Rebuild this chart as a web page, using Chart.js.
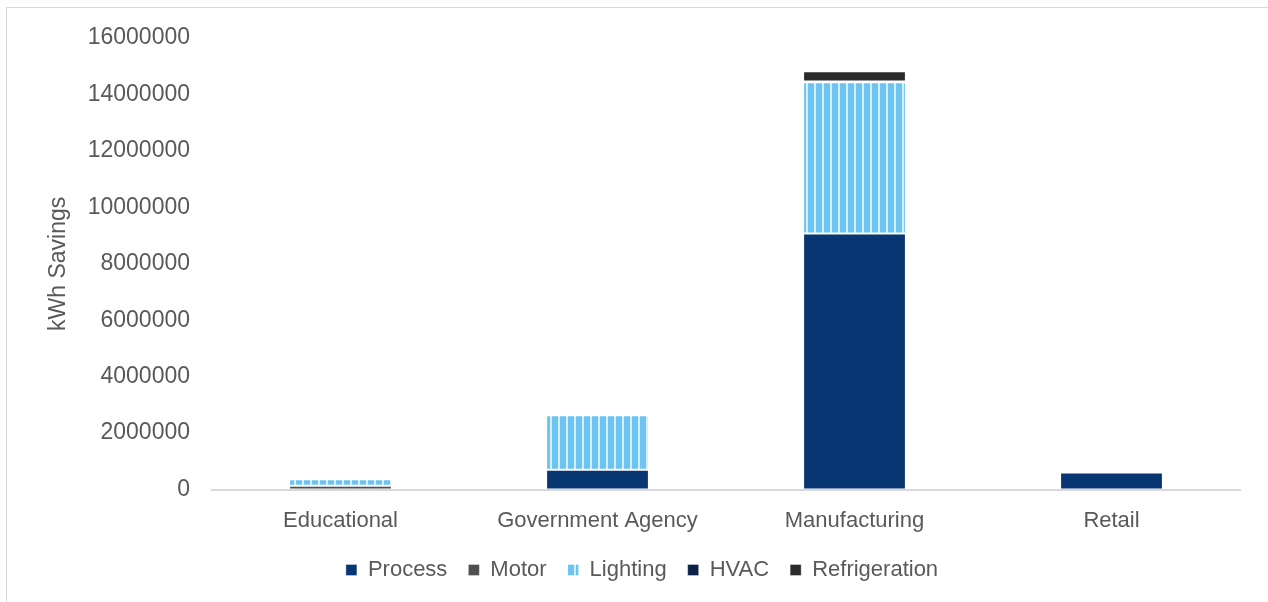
<!DOCTYPE html>
<html>
<head>
<meta charset="utf-8">
<script src="https://cdn.jsdelivr.net/npm/chart.js@4"></script>
<style>
  html, body { margin: 0; padding: 0; background: #fff; }
  #wrap { position: relative; width: 1268px; height: 602px; overflow: hidden; }
  #frame { position: absolute; left: 6px; top: 7px; width: 1300px; height: 700px; border: 1px solid #d9d9d9; box-sizing: border-box; pointer-events: none; }
  canvas { position: absolute; left: 0; top: 0; }
</style>
</head>
<body>
<div id="wrap">
  <canvas id="myChart" width="1268" height="602"></canvas>
  <div id="frame"></div>
</div>
<script>
const categories = ["Educational", "Government Agency", "Manufacturing", "Retail"];
const process = [0, 700000, 9070000, 603000];
const motor = [140000, 0, 0, 0];
const lighting = [225000, 1935000, 5360000, 0];
const hvac = [0, 0, 30000, 0];
const refrigeration = [0, 0, 360000, 0];
const yTicks = [0, 2000000, 4000000, 6000000, 8000000, 10000000, 12000000, 14000000, 16000000];

// striped fill for Lighting
const pc = document.createElement('canvas');
pc.width = 8;
pc.height = 8;
const pctx = pc.getContext('2d');
pctx.fillStyle = '#6cc4f1';
pctx.fillRect(0, 0, 8, 8);
pctx.fillStyle = '#d6eefa';
pctx.fillRect(6, 0, 2, 8);

const ctx = document.getElementById('myChart');
const stripes = ctx.getContext('2d').createPattern(pc, 'repeat');

const family = "'Liberation Sans', Arial, sans-serif";
const edge = 'rgba(255,255,255,0.35)';

// legend padding is also its horizontal spacing, so move it afterwards
const legendShift = {
    id: 'legendShift',
    afterLayout(chart) {
        const lg = chart.legend;
        lg.top -= 14;
        lg.bottom -= 14;
        lg.left += 22;
        lg.right += 22;
    }
};

new Chart(ctx, {
    type: 'bar',
    data: {
        labels: categories,
        datasets: [
            { label: 'Process', data: process, backgroundColor: '#073673' },
            { label: 'Motor', data: motor, backgroundColor: '#4f4f4f' },
            { label: 'Lighting', data: lighting, backgroundColor: stripes },
            { label: 'HVAC', data: hvac, backgroundColor: '#0c2147' },
            { label: 'Refrigeration', data: refrigeration, backgroundColor: '#2b2b2b' }
        ].map(d => Object.assign(d, { borderWidth: 1, borderColor: edge, borderSkipped: false }))
    },
    options: {
        responsive: false,
        animation: false,
        layout: { padding: { left: 0, right: 28, top: 38, bottom: -3 } },
        datasets: { bar: { barPercentage: 0.4, categoryPercentage: 1 } },
        plugins: {
            legend: {
                position: 'bottom',
                labels: {
                    color: '#595959',
                    font: { family: family, size: 22 },
                    boxWidth: 11,
                    boxHeight: 11,
                    padding: 21
                }
            },
            tooltip: { enabled: false }
        },
        scales: {
            x: {
                stacked: true,
                grid: { display: false, drawTicks: false },
                border: { display: true, color: '#d9d9d9', width: 2 },
                ticks: { color: '#595959', font: { family: family, size: 22 }, padding: 18 }
            },
            y: {
                stacked: true,
                min: 0,
                max: 16000000,
                afterFit: s => { s.width = 212; },
                afterBuildTicks: s => { s.ticks = yTicks.map(v => ({ value: v })); },
                grid: { display: false, drawTicks: false },
                border: { display: false },
                ticks: {
                    color: '#595959',
                    font: { family: family, size: 23 },
                    padding: 22,
                    callback: v => String(v)
                },
                title: {
                    display: true,
                    text: 'kWh Savings',
                    color: '#595959',
                    font: { family: family, size: 23 },
                    padding: { top: 45, bottom: 0 }
                }
            }
        }
    },
    plugins: [legendShift]
});
</script>
</body>
</html>
